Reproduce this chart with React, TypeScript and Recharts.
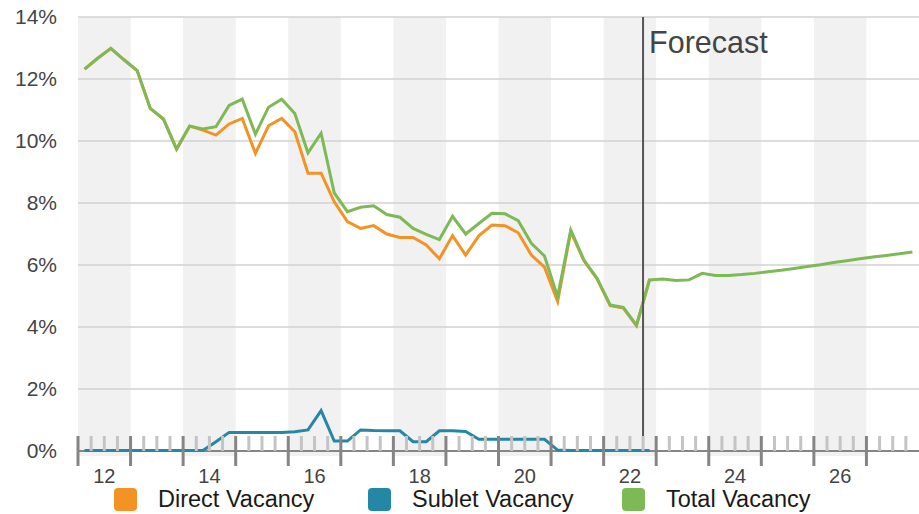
import { LineChart, Line, XAxis, YAxis, CartesianGrid, ReferenceArea, ReferenceLine, Legend } from 'recharts';

const FONT = '"Liberation Sans", Arial, Helvetica, sans-serif';

// quarters 2012 Q1 .. 2027 Q4
const years = [2012, 2013, 2014, 2015, 2016, 2017, 2018, 2019, 2020, 2021, 2022, 2023, 2024, 2025, 2026, 2027];
const quarterNames = ['Q1', 'Q2', 'Q3', 'Q4'];
const yearLabels = ['12', '14', '16', '18', '20', '22', '24', '26'];
const yTicks = [0, 2, 4, 6, 8, 10, 12, 14];

const totalVacancy = [
  12.32, 12.67, 12.99, 12.62, 12.27, 11.05, 10.71, 9.74,
  10.48, 10.39, 10.46, 11.15, 11.35, 10.22, 11.09, 11.35,
  10.89, 9.62, 10.25, 8.33, 7.72, 7.86, 7.91, 7.63,
  7.54, 7.18, 6.99, 6.82, 7.57, 7.0, 7.34, 7.67,
  7.65, 7.43, 6.7, 6.29, 4.98, 7.13, 6.16, 5.57,
  4.71, 4.63, 4.06, 5.52, 5.55, 5.5, 5.52, 5.73,
  5.66, 5.66, 5.69, 5.73, 5.78, 5.83, 5.89, 5.95,
  6.01, 6.08, 6.14, 6.2, 6.26, 6.31, 6.36, 6.42,
];

const directVacancy = [
  12.32, 12.67, 12.99, 12.62, 12.27, 11.05, 10.71, 9.74,
  10.48, 10.35, 10.19, 10.55, 10.73, 9.6, 10.49, 10.73,
  10.3, 8.96, 8.96, 8.04, 7.4, 7.18, 7.27, 7.0,
  6.89, 6.89, 6.65, 6.2, 6.95, 6.32, 6.94, 7.29,
  7.27, 7.04, 6.32, 5.93, 4.82, 7.08, 6.14, 5.55,
  4.69, 4.61, 4.04, 5.55,
];

const subletVacancy = [
  0.02, 0.02, 0.02, 0.02, 0.02, 0.02, 0.02, 0.02,
  0.02, 0.02, 0.3, 0.6, 0.6, 0.6, 0.6, 0.6,
  0.62, 0.68, 1.3, 0.32, 0.32, 0.68, 0.66, 0.65,
  0.65, 0.3, 0.3, 0.65, 0.65, 0.63, 0.38, 0.38,
  0.38, 0.38, 0.38, 0.38, 0.03, 0.02, 0.02, 0.02,
  0.02, 0.02, 0.02, 0.02,
];

const forecastStart = 43; // boundary between 2022 Q3 and Q4

const series = [
  { key: 'direct', name: 'Direct Vacancy', color: '#f39325' },
  { key: 'sublet', name: 'Sublet Vacancy', color: '#2587a6' },
  { key: 'total', name: 'Total Vacancy', color: '#7db955' },
];

const quarters = years.flatMap(y => quarterNames.map(q => `${y} ${q}`));

const data = quarters.map((label, i) => ({
  label,
  x: i + 0.5,
  direct: directVacancy[i] ?? null,
  sublet: subletVacancy[i] ?? null,
  total: totalVacancy[i] ?? null,
}));

const xTicks = quarters.map((_, i) => i);

const QuarterTick = ({ x, y, payload }: any) => {
  const v = payload.value;
  const major = v % 4 === 0;
  const labelIdx = (v - 2) % 8 === 0 ? (v - 2) / 8 : -1;
  return (
    <g>
      <line
        x1={x}
        x2={x}
        y1={y - 15}
        y2={major ? y + 15 : y}
        stroke={major ? '#858585' : '#c4c4c4'}
        strokeWidth={3}
      />
      {labelIdx >= 0 && (
        <text x={x} y={y + 32} textAnchor="middle" fontSize={20} fill="#444" fontFamily={FONT}>
          {yearLabels[labelIdx]}
        </text>
      )}
    </g>
  );
};

const ForecastLabel = ({ viewBox }: any) => (
  <text x={viewBox.x + 6} y={53} fontSize={30.5} fill="#444" fontFamily={FONT}>
    Forecast
  </text>
);

const LegendContent = () => (
  <div style={{ display: 'flex', paddingLeft: 114, height: 30, alignItems: 'center', fontFamily: FONT, fontSize: 23.5, color: '#1a1a1a' }}>
    {series.map(s => (
      <div key={s.key} style={{ width: 254, display: 'flex', alignItems: 'center' }}>
        <span style={{ width: 23, height: 23, borderRadius: 4, background: s.color, display: 'inline-block' }} />
        <span style={{ marginLeft: 21 }}>{s.name}</span>
      </div>
    ))}
  </div>
);

export default function App() {
  return (
    <div style={{ position: 'absolute', left: 0, top: 0, width: 919, height: 514, background: '#fff' }}>
      <LineChart width={919} height={514} data={data} margin={{ top: 17, right: 0, bottom: 0, left: 0 }}>
        {years.filter(y => y % 2 === 0).map(y => (
          <ReferenceArea
            key={y}
            x1={(y - 2012) * 4}
            x2={(y - 2012) * 4 + 4}
            y1={-0.16}
            y2={14}
            fill="#f1f1f1"
            fillOpacity={1}
            stroke="none"
            ifOverflow="visible"
            zIndex={-200}
          />
        ))}
        <CartesianGrid vertical={false} stroke="#d2d2d2" strokeWidth={1.5} />
        <XAxis
          type="number"
          dataKey="x"
          domain={[0, 64]}
          ticks={xTicks}
          interval={0}
          tick={<QuarterTick />}
          tickLine={false}
          tickSize={0}
          tickMargin={0}
          axisLine={{ stroke: '#858585', strokeWidth: 2 }}
          height={33}
          allowDataOverflow
        />
        <YAxis
          type="number"
          domain={[0, 14]}
          ticks={yTicks}
          width={78}
          axisLine={false}
          tickLine={false}
          tickSize={0}
          tickMargin={21}
          tickFormatter={(v: number) => `${v}%`}
          tick={{ fontSize: 21, fill: '#444', fontFamily: FONT }}
        />
        <Legend verticalAlign="bottom" height={30} content={<LegendContent />} wrapperStyle={{ left: 0, bottom: 0, width: 919 }} />
        <Line type="linear" dataKey="direct" name="Direct Vacancy" stroke="#f39325" strokeWidth={3} dot={false} isAnimationActive={false} />
        <Line type="linear" dataKey="total" name="Total Vacancy" stroke="#7db955" strokeWidth={3} dot={false} isAnimationActive={false} />
        <Line type="linear" dataKey="sublet" name="Sublet Vacancy" stroke="#2587a6" strokeWidth={3} dot={false} isAnimationActive={false} zIndex={600} />
        <ReferenceLine x={forecastStart} stroke="#555" strokeWidth={2} label={<ForecastLabel />} zIndex={700} />
      </LineChart>
    </div>
  );
}
